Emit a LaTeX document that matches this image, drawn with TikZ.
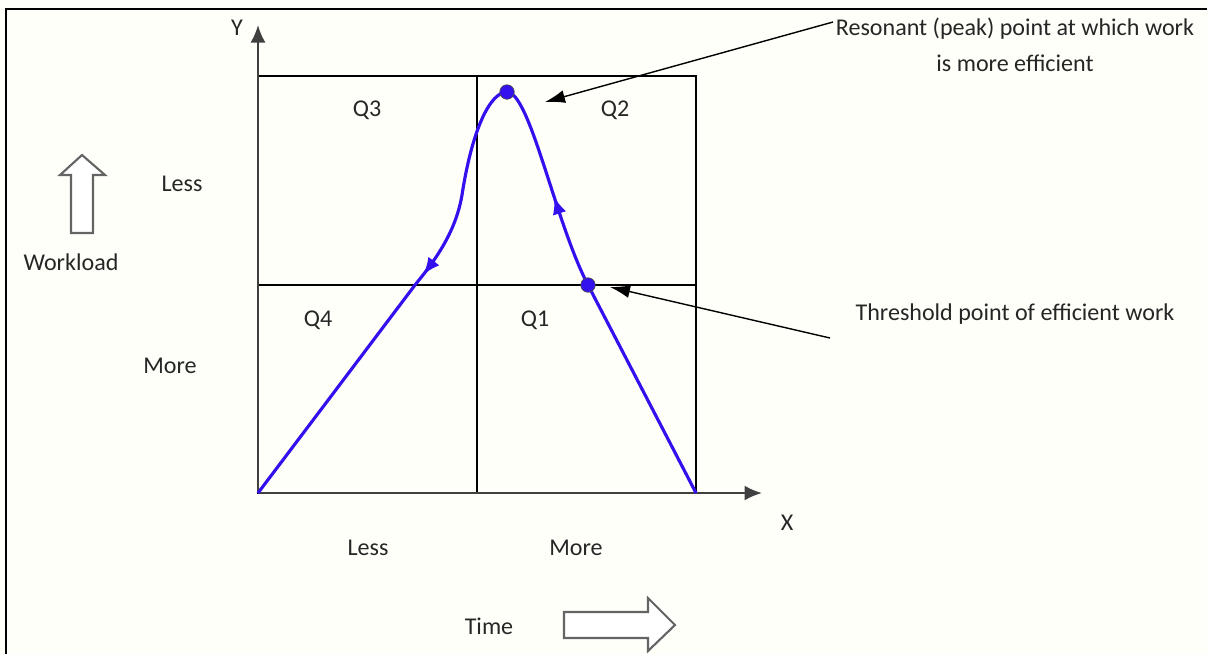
\documentclass[tikz,border=0pt]{standalone}
\usepackage{fontspec}
\setmainfont{Carlito}
\usepackage{xcolor}
\definecolor{curva}{RGB}{51,17,238}
\definecolor{cinza}{RGB}{100,100,100}
\usetikzlibrary{arrows.meta,positioning,decorations.markings}

\begin{document}
\begin{tikzpicture}[
    x=0.02cm,y=-0.02cm,
    grade/.style={draw=black,line width=0.8pt},
    eixo/.style={-{Latex[length=3.5mm,width=3mm]},line width=1.2pt,draw=black!75},
    rotulo/.style={font=\fontsize{13.7}{16}\selectfont,text=black!85},
    ponto/.style={circle,fill=curva,draw=black!70,line width=0.4pt,inner sep=0pt,minimum size=2.9mm},
    chamada/.style={-{Latex[length=4mm,width=2.6mm]},line width=0.8pt},
    oco/.style={draw=cinza,line width=1.2pt,fill=white,line join=miter},
    ponta/.style={decoration={markings,
        mark=at position 0.355 with {\arrow{Latex[length=3.5mm,width=2.8mm]}},
        mark=at position 0.705 with {\arrow{Latex[length=3.5mm,width=2.8mm]}}},
      postaction={decorate}}
    ]
    \useasboundingbox (0,0) rectangle (1207,654);
    \fill[white!98!yellow] (0,0) rectangle (1207,654);
    \draw[line width=1pt] (1207,9) -- (6,9) -- (6,654);

    % quadrantes
    \draw[grade] (258,76) rectangle (696,493);
    \draw[grade] (477,76) -- (477,493);
    \draw[grade] (258,285) -- (696,285);

    % eixos
    \coordinate (O)    at (258,493);
    \coordinate (ytop) at (258,25);
    \coordinate (xend) at (762,493);
    \draw[eixo] (O) -- (ytop);
    \draw[eixo] (O) -- (xend);
    \node[rotulo] (ylab) at (237,28)  {Y};
    \node[rotulo] (xlab) at (787,523) {X};

    % curva
    \coordinate (fim)  at (696,493);
    \coordinate (thr)  at (588,285);
    \coordinate (peak) at (507,92);
    \coordinate (infl) at (462,195);
    \coordinate (cruz) at (415,285);
    \draw[curva,line width=1.8pt,ponta] (fim) -- (thr)
      .. controls (555,222) and (530,92) .. (peak)
      .. controls (490,92) and (472,130) .. (infl)
      .. controls (456,230) and (438,257) .. (cruz) -- (O);
    \node[ponto] (pico)   at (peak) {};
    \node[ponto] (limiar) at (thr)  {};

    % quadrant labels
    \node[rotulo] (q3) at (367,110) {Q3};
    \node[rotulo] (q2) at (615,110) {Q2};
    \node[rotulo] (q4) at (318,320) {Q4};
    \node[rotulo] (q1) at (535,320) {Q1};

    % workload
    \node[rotulo] (lessy) at (182,184) {Less};
    \node[rotulo] (morey) at (170,366) {More};
    \node[rotulo] (work)  at (71,262)  {Workload};
    \draw[oco] (71,233) -- (93,233) -- (93,175) -- (105,175) -- (82,155)
      -- (60,175) -- (71,175) -- cycle;

    % time
    \node[rotulo] (lessx) at (368,548) {Less};
    \node[rotulo] (morex) at (576,548) {More};
    \node[rotulo] (time)  at (489,626) {Time};
    \draw[oco] (564,612) -- (648,612) -- (648,598) -- (675,625) -- (648,651)
      -- (648,638) -- (564,638) -- cycle;

    % chamadas
    \node[rotulo,align=center,font=\fontsize{13.7}{20.4}\selectfont] (res) at (1015,45)
      {Resonant (peak) point at which work\\is more efficient};
    \coordinate (resfrom) at (833,22);
    \coordinate (restip)  at (545,102);
    \draw[chamada] (resfrom) -- (restip);
    \node[rotulo] (lim) at (1015,314) {Threshold point of efficient work};
    \coordinate (thrfrom) at (830,338);
    \coordinate (thrtip)  at (610,287);
    \draw[chamada] (thrfrom) -- (thrtip);
  \end{tikzpicture}
\end{document}
